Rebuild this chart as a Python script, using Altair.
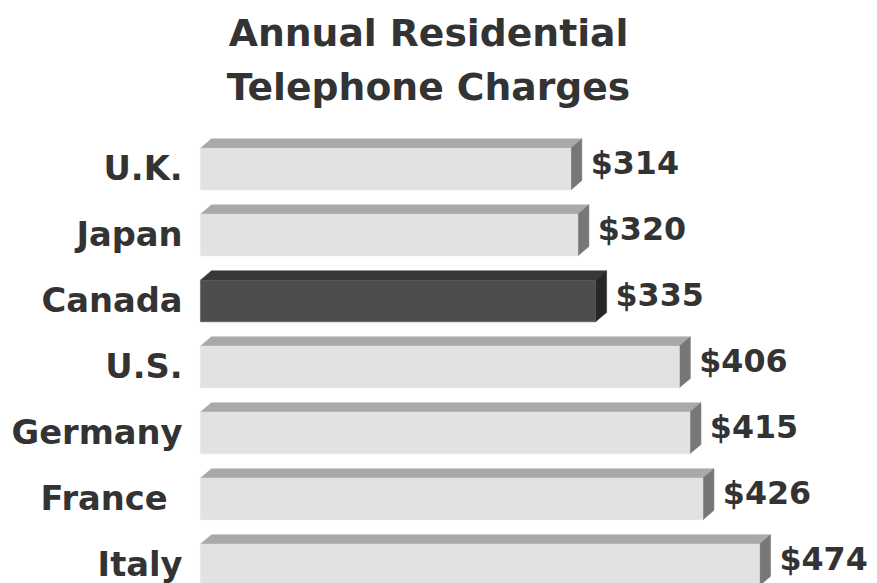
import altair as alt
import pandas as pd

# ---- data ----
countries = ["U.K.", "Japan", "Canada", "U.S.", "Germany", "France", "Italy"]
charges = [314, 320, 335, 406, 415, 426, 474]
highlight = "Canada"
title_lines = ["Annual Residential", "Telephone Charges"]

# ---- 3-D bar geometry (in data units) ----
FRONT_H = 0.632   # height of the front face, in row units
DEPTH_X = 9.3     # depth offset, in dollars
DEPTH_Y = 0.142   # depth offset, in row units

front, top, side = [], [], []
for i, (c, v) in enumerate(zip(countries, charges)):
    shade = "dark" if c == highlight else "light"
    front.append(dict(country=c, row=i, row2=i + FRONT_H, value=v,
                      label=f"${v}", key="front_" + shade))
    top.append(dict(country=c, y=i, x=0, x2=v, key="top_" + shade))
    top.append(dict(country=c, y=i - DEPTH_Y, x=DEPTH_X, x2=v + DEPTH_X, key="top_" + shade))
    side.append(dict(country=c, x=v, y=i, y2=i + FRONT_H, key="side_" + shade))
    side.append(dict(country=c, x=v + DEPTH_X, y=i - DEPTH_Y,
                     y2=i + FRONT_H - DEPTH_Y, key="side_" + shade))

front_df = pd.DataFrame(front)
top_df = pd.DataFrame(top)
side_df = pd.DataFrame(side)

keys = ["front_light", "top_light", "side_light", "front_dark", "top_dark", "side_dark"]
shades = ["#e2e2e2", "#a9a9a9", "#777777", "#4d4d4d", "#373737", "#272727"]
color_scale = alt.Scale(domain=keys, range=shades)

xs = alt.Scale(domain=[0, 560], nice=False, zero=False)
ys = alt.Scale(domain=[-0.406, 6.556], nice=False, zero=False, reverse=True)

FONT = "DejaVu Sans"
TXT = "#333333"

front_layer = alt.Chart(front_df).mark_rect(strokeWidth=0.5).encode(
    x=alt.X("value:Q", scale=xs, axis=None),
    x2=alt.X2(datum=0),
    y=alt.Y("row:Q", scale=ys, axis=None),
    y2="row2:Q",
    color=alt.Color("key:N", scale=color_scale, legend=None),
    stroke=alt.Stroke("key:N", scale=color_scale, legend=None),
)

top_layer = alt.Chart(top_df).mark_area(orient="horizontal", strokeWidth=0.5).encode(
    y=alt.Y("y:Q", scale=ys, axis=None),
    x=alt.X("x:Q", scale=xs, axis=None),
    x2="x2:Q",
    color=alt.Color("key:N", scale=color_scale, legend=None),
    stroke=alt.Stroke("key:N", scale=color_scale, legend=None),
    detail="country:N",
)

side_layer = alt.Chart(side_df).mark_area(strokeWidth=0.5).encode(
    x=alt.X("x:Q", scale=xs, axis=None),
    y=alt.Y("y:Q", scale=ys, axis=None),
    y2="y2:Q",
    color=alt.Color("key:N", scale=color_scale, legend=None),
    stroke=alt.Stroke("key:N", scale=color_scale, legend=None),
    detail="country:N",
)

def cat_text(dx):
    return alt.Chart(front_df).mark_text(
        align="right", baseline="alphabetic", dx=dx, dy=32,
        font=FONT, fontSize=34, fontWeight="bold", color=TXT,
    ).encode(
        x=alt.X(datum=0, scale=xs),
        y=alt.Y("row:Q", scale=ys),
        text="country:N",
    )

# the reference's "France " label carries a trailing space, so it sits further left
cat_labels = cat_text(-18).transform_filter(alt.datum.country != "France")
france_label = cat_text(-33).transform_filter(alt.datum.country == "France")

val_labels = alt.Chart(front_df).mark_text(
    align="left", baseline="alphabetic", dx=20, dy=26,
    font=FONT, fontSize=32, fontWeight="bold", color=TXT,
).encode(
    x=alt.X("value:Q", scale=xs),
    y=alt.Y("row:Q", scale=ys),
    text="label:N",
)

chart = alt.layer(top_layer, side_layer, front_layer, cat_labels, france_label,
                  val_labels).properties(
    width=666,
    height=463,
    title=alt.TitleParams(
        text=title_lines, font=FONT, fontSize=38, fontWeight="bold", color=TXT,
        anchor="middle", frame="group", dx=-103, dy=34, offset=18,
        baseline="alphabetic", lineHeight=54,
    ),
    autosize=alt.AutoSizeParams(type="none"),
    padding={"left": 194, "top": 112, "right": 8, "bottom": 0},
).configure_view(stroke=None)

chart.save("out.html", embed_options={"renderer": "svg", "actions": False})
